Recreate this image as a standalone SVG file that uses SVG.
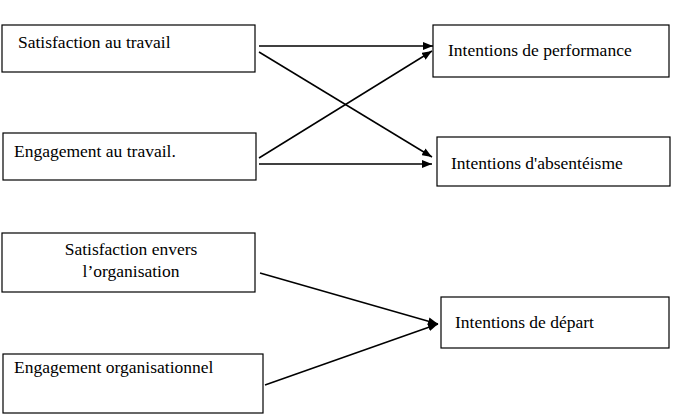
<svg xmlns="http://www.w3.org/2000/svg" width="680" height="417" viewBox="0 0 680 417">
<defs>
<style>
.box{fill:#fff;stroke:#000;stroke-width:1.2}
.t{font-family:"Liberation Serif","Times New Roman",serif;font-size:17.5px;fill:#000}
.c{stroke:#000;stroke-width:1.5;fill:none;marker-end:url(#ah)}
</style>
<marker id="ah" viewBox="0 0 10 8" refX="10" refY="4" markerWidth="10" markerHeight="8" markerUnits="userSpaceOnUse" orient="auto">
<path d="M0,0 L10,4 L0,8 Z" fill="#000"/>
</marker>
</defs>
<rect width="680" height="417" fill="#fff"/>
<g id="sat-travail"><rect class="box" x="2" y="25" width="253" height="47"/><text class="t" x="18" y="48">Satisfaction au travail</text></g>
<g id="eng-travail"><rect class="box" x="3" y="133" width="253" height="47"/><text class="t" x="14" y="157">Engagement au travail.</text></g>
<g id="int-perf"><rect class="box" x="433" y="25" width="236" height="52"/><text class="t" x="448" y="56">Intentions de performance</text></g>
<g id="int-abs"><rect class="box" x="437" y="137" width="233" height="49"/><text class="t" x="451" y="169">Intentions d'absentéisme</text></g>
<g id="sat-org"><rect class="box" x="2" y="233" width="253" height="59"/><text class="t" x="131" y="255" text-anchor="middle">Satisfaction envers</text><text class="t" x="131" y="277" text-anchor="middle">l’organisation</text></g>
<g id="int-depart"><rect class="box" x="441" y="297" width="228" height="51"/><text class="t" x="455" y="328">Intentions de départ</text></g>
<g id="eng-org"><rect class="box" x="3" y="354" width="260" height="59"/><text class="t" x="14" y="373">Engagement organisationnel</text></g>
<g id="connectors">
<line class="c" x1="259" y1="46" x2="433" y2="46"/>
<line class="c" x1="259" y1="52" x2="432" y2="157"/>
<line class="c" x1="259" y1="158" x2="432" y2="51"/>
<line class="c" x1="259" y1="164" x2="432" y2="164"/>
<line class="c" x1="260" y1="273" x2="438" y2="324"/>
<line class="c" x1="265" y1="385" x2="438" y2="324"/>
</g>
</svg>
